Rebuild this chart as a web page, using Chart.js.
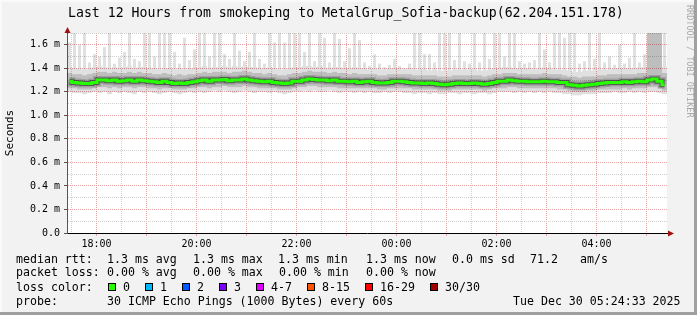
<!DOCTYPE html>
<html>
<head>
<meta charset="utf-8">
<script src="https://cdn.jsdelivr.net/npm/chart.js@4.4.1/dist/chart.umd.min.js"></script>
<style>
  body { margin: 0; background: #fff; }
  #frame { position: relative; width: 697px; height: 315px; background: #f2f2f2; overflow: hidden; color: #000;
           font-family: "DejaVu Sans Mono", monospace; }
  #frame canvas { position: absolute; left: 0; top: 0; }
  .edge { position: absolute; }
  .t { position: absolute; font-size: 11.6px; line-height: 14px; white-space: pre; }
  .box { position: absolute; width: 6px; height: 6px; border: 1px solid #000; top: 283px; }
  #title { position: absolute; left: 68px; top: 5px; font-size: 13.2px; line-height: 16px; white-space: pre; }
  #mark { position: absolute; left: 685px; top: 5px; font-size: 8.5px; color: #a8a8a8; writing-mode: vertical-rl; white-space: pre; }
</style>
</head>
<body>
<div id="frame">
  <div class="edge" style="left:0;top:0;width:697px;height:2px;background:#fafafa"></div>
  <div class="edge" style="left:0;top:0;width:2px;height:315px;background:#fafafa"></div>
  <div class="edge" style="left:694px;top:0;width:3px;height:315px;background:#a0a0a0"></div>
  <div class="edge" style="left:0;top:312px;width:697px;height:3px;background:#a0a0a0"></div>
  <canvas id="chart" width="697" height="315"></canvas>
  <div id="title">Last 12 Hours from smokeping to MetalGrup_Sofia-backup(62.204.151.178)</div>
  <div id="mark">RRDTOOL / TOBI OETIKER</div>

  <div class="t" style="left:16px;top:252px">median rtt:</div>
  <div class="t" style="left:107px;top:252px">1.3 ms avg</div>
  <div class="t" style="left:193px;top:252px">1.3 ms max</div>
  <div class="t" style="left:278px;top:252px">1.3 ms min</div>
  <div class="t" style="left:366px;top:252px">1.3 ms now</div>
  <div class="t" style="left:452px;top:252px">0.0 ms sd</div>
  <div class="t" style="left:530px;top:252px">71.2</div>
  <div class="t" style="left:580px;top:252px">am/s</div>

  <div class="t" style="left:16px;top:265px">packet loss:</div>
  <div class="t" style="left:107px;top:265px">0.00 % avg</div>
  <div class="t" style="left:193px;top:265px">0.00 % max</div>
  <div class="t" style="left:279px;top:265px">0.00 % min</div>
  <div class="t" style="left:366px;top:265px">0.00 % now</div>

  <div class="t" style="left:16px;top:280px">loss color:</div>
  <div class="box" style="left:108px;background:#26ff00"></div><div class="t" style="left:123px;top:280px">0</div>
  <div class="box" style="left:145px;background:#00b8ff"></div><div class="t" style="left:160px;top:280px">1</div>
  <div class="box" style="left:182px;background:#0059ff"></div><div class="t" style="left:197px;top:280px">2</div>
  <div class="box" style="left:219px;background:#7e00ff"></div><div class="t" style="left:234px;top:280px">3</div>
  <div class="box" style="left:256px;background:#dd00ff"></div><div class="t" style="left:271px;top:280px">4-7</div>
  <div class="box" style="left:307px;background:#ff5500"></div><div class="t" style="left:322px;top:280px">8-15</div>
  <div class="box" style="left:365px;background:#ff0000"></div><div class="t" style="left:380px;top:280px">16-29</div>
  <div class="box" style="left:430px;background:#a10000"></div><div class="t" style="left:445px;top:280px">30/30</div>

  <div class="t" style="left:16px;top:294px">probe:</div>
  <div class="t" style="left:107px;top:294px">30 ICMP Echo Pings (1000 Bytes) every 60s</div>
  <div class="t" style="left:513px;top:294px">Tue Dec 30 05:24:33 2025</div>
</div>
<script>
// Time window: 12 hours ending Tue Dec 30 05:24:33, in hours since Dec 29 00:00
const startHour = 17 + 24.55 / 60;
const endHour = startHour + 12;
const binHours = 0.1; // 6 minute bins

// Median RTT per bin (ms)
const median = [
  1.29, 1.28, 1.275, 1.27, 1.27, 1.28, 1.30, 1.30, 1.295, 1.30,
  1.29, 1.295, 1.30, 1.29, 1.30, 1.295, 1.29, 1.285, 1.28, 1.29,
  1.28, 1.27, 1.275, 1.27, 1.28, 1.285, 1.295, 1.30, 1.29, 1.30,
  1.30, 1.305, 1.295, 1.30, 1.30, 1.31, 1.30, 1.295, 1.29, 1.285,
  1.29, 1.28, 1.275, 1.27, 1.275, 1.29, 1.29, 1.30, 1.31, 1.305,
  1.30, 1.30, 1.295, 1.30, 1.29, 1.29, 1.285, 1.29, 1.28, 1.285,
  1.29, 1.28, 1.275, 1.275, 1.28, 1.29, 1.29, 1.285, 1.28, 1.275,
  1.275, 1.27, 1.275, 1.27, 1.265, 1.26, 1.265, 1.27, 1.275, 1.27,
  1.27, 1.275, 1.27, 1.265, 1.27, 1.28, 1.29, 1.29, 1.30, 1.295,
  1.29, 1.29, 1.285, 1.285, 1.285, 1.29, 1.285, 1.285, 1.28, 1.28,
  1.26, 1.255, 1.25, 1.255, 1.26, 1.265, 1.27, 1.275, 1.28, 1.28,
  1.28, 1.285, 1.28, 1.285, 1.29, 1.285, 1.30, 1.31, 1.29, 1.26
];

// Smoke per bin (ms): lowest ping, inner band low/high, top of dense smoke, highest ping
const smokeMin = [
  1.20, 1.19, 1.19, 1.18, 1.19, 1.20, 1.19, 1.20, 1.18, 1.20,
  1.19, 1.20, 1.19, 1.18, 1.20, 1.19, 1.20, 1.19, 1.18, 1.19,
  1.20, 1.19, 1.18, 1.19, 1.20, 1.19, 1.20, 1.19, 1.20, 1.21,
  1.20, 1.21, 1.20, 1.19, 1.20, 1.21, 1.20, 1.19, 1.20, 1.20,
  1.19, 1.20, 1.19, 1.18, 1.19, 1.20, 1.20, 1.21, 1.20, 1.21,
  1.20, 1.20, 1.21, 1.20, 1.19, 1.20, 1.20, 1.19, 1.20, 1.19,
  1.20, 1.19, 1.19, 1.20, 1.19, 1.20, 1.20, 1.19, 1.19, 1.18,
  1.19, 1.19, 1.18, 1.19, 1.18, 1.18, 1.19, 1.19, 1.18, 1.19,
  1.19, 1.18, 1.19, 1.19, 1.18, 1.19, 1.20, 1.20, 1.20, 1.19,
  1.20, 1.19, 1.20, 1.19, 1.20, 1.19, 1.20, 1.19, 1.19, 1.18,
  1.18, 1.17, 1.17, 1.18, 1.18, 1.18, 1.19, 1.19, 1.19, 1.20,
  1.19, 1.19, 1.20, 1.19, 1.20, 1.19, 1.20, 1.20, 1.19, 1.18
];
const smokeLow = [
  1.23, 1.23, 1.22, 1.22, 1.22, 1.23, 1.24, 1.24, 1.23, 1.24,
  1.23, 1.24, 1.24, 1.23, 1.24, 1.24, 1.23, 1.23, 1.22, 1.23,
  1.23, 1.22, 1.22, 1.22, 1.23, 1.23, 1.24, 1.24, 1.23, 1.24,
  1.24, 1.25, 1.24, 1.24, 1.24, 1.25, 1.24, 1.24, 1.23, 1.23,
  1.23, 1.23, 1.22, 1.22, 1.22, 1.23, 1.24, 1.24, 1.25, 1.25,
  1.24, 1.24, 1.24, 1.24, 1.23, 1.23, 1.23, 1.23, 1.23, 1.23,
  1.23, 1.23, 1.22, 1.22, 1.23, 1.23, 1.23, 1.23, 1.23, 1.22,
  1.22, 1.22, 1.22, 1.22, 1.21, 1.21, 1.21, 1.22, 1.22, 1.22,
  1.22, 1.22, 1.22, 1.21, 1.22, 1.23, 1.23, 1.23, 1.24, 1.24,
  1.23, 1.23, 1.23, 1.23, 1.23, 1.23, 1.23, 1.23, 1.22, 1.22,
  1.21, 1.20, 1.20, 1.20, 1.21, 1.21, 1.22, 1.22, 1.22, 1.22,
  1.22, 1.23, 1.22, 1.23, 1.23, 1.23, 1.24, 1.24, 1.23, 1.21
];
const smokeHigh = [
  1.36, 1.35, 1.35, 1.34, 1.35, 1.36, 1.37, 1.37, 1.36, 1.37,
  1.36, 1.36, 1.37, 1.36, 1.37, 1.36, 1.36, 1.35, 1.35, 1.36,
  1.35, 1.34, 1.35, 1.34, 1.35, 1.35, 1.36, 1.37, 1.36, 1.37,
  1.37, 1.37, 1.36, 1.37, 1.37, 1.38, 1.37, 1.36, 1.36, 1.35,
  1.36, 1.35, 1.34, 1.34, 1.35, 1.36, 1.36, 1.37, 1.38, 1.37,
  1.37, 1.37, 1.36, 1.37, 1.36, 1.36, 1.35, 1.36, 1.35, 1.35,
  1.35, 1.35, 1.34, 1.34, 1.35, 1.35, 1.35, 1.35, 1.35, 1.34,
  1.34, 1.34, 1.34, 1.34, 1.33, 1.33, 1.33, 1.34, 1.34, 1.34,
  1.34, 1.34, 1.34, 1.33, 1.34, 1.35, 1.35, 1.36, 1.36, 1.36,
  1.35, 1.35, 1.35, 1.35, 1.35, 1.36, 1.35, 1.35, 1.35, 1.34,
  1.33, 1.33, 1.32, 1.33, 1.33, 1.33, 1.34, 1.34, 1.35, 1.35,
  1.35, 1.35, 1.35, 1.35, 1.36, 1.36, 1.75, 1.75, 1.75, 1.36
];
const smokeTop = [
  1.41, 1.40, 1.40, 1.39, 1.40, 1.41, 1.42, 1.41, 1.40, 1.41,
  1.40, 1.41, 1.42, 1.40, 1.41, 1.41, 1.40, 1.40, 1.39, 1.40,
  1.40, 1.39, 1.40, 1.39, 1.40, 1.40, 1.41, 1.42, 1.40, 1.41,
  1.41, 1.42, 1.41, 1.42, 1.41, 1.42, 1.41, 1.41, 1.40, 1.40,
  1.41, 1.40, 1.39, 1.39, 1.40, 1.41, 1.41, 1.42, 1.42, 1.41,
  1.42, 1.41, 1.40, 1.41, 1.41, 1.40, 1.40, 1.41, 1.40, 1.40,
  1.39, 1.40, 1.39, 1.39, 1.40, 1.40, 1.40, 1.39, 1.40, 1.39,
  1.39, 1.39, 1.38, 1.39, 1.38, 1.38, 1.38, 1.39, 1.39, 1.39,
  1.39, 1.39, 1.38, 1.38, 1.39, 1.40, 1.40, 1.41, 1.41, 1.40,
  1.40, 1.40, 1.40, 1.39, 1.40, 1.41, 1.40, 1.39, 1.39, 1.39,
  1.38, 1.37, 1.37, 1.38, 1.38, 1.38, 1.39, 1.39, 1.39, 1.40,
  1.40, 1.40, 1.40, 1.40, 1.41, 1.41, 1.75, 1.75, 1.75, 1.41
];
const smokeMax = [
  1.62, 1.75, 1.60, 1.75, 1.45, 1.52, 1.50, 1.58, 1.75, 1.44,
  1.49, 1.54, 1.75, 1.48, 1.46, 1.75, 1.75, 1.50, 1.75, 1.75,
  1.75, 1.54, 1.44, 1.66, 1.47, 1.56, 1.75, 1.75, 1.50, 1.75,
  1.75, 1.52, 1.48, 1.75, 1.55, 1.46, 1.54, 1.75, 1.48, 1.44,
  1.75, 1.62, 1.75, 1.62, 1.75, 1.75, 1.75, 1.54, 1.75, 1.46,
  1.75, 1.66, 1.45, 1.75, 1.65, 1.46, 1.57, 1.75, 1.64, 1.45,
  1.42, 1.52, 1.44, 1.41, 1.43, 1.48, 1.42, 1.40, 1.44, 1.75,
  1.75, 1.52, 1.52, 1.45, 1.75, 1.75, 1.75, 1.47, 1.75, 1.46,
  1.44, 1.75, 1.45, 1.75, 1.48, 1.75, 1.75, 1.50, 1.75, 1.75,
  1.46, 1.44, 1.45, 1.47, 1.75, 1.56, 1.45, 1.75, 1.75, 1.66,
  1.75, 1.75, 1.44, 1.46, 1.75, 1.48, 1.75, 1.45, 1.50, 1.43,
  1.60, 1.44, 1.49, 1.75, 1.45, 1.52, 1.75, 1.75, 1.75, 1.75
];

// Axis ticks
const yMax = 1.7;
const yStep = 0.1;
const halfHourTicks = [];
for(let h = 17.5; h <= 29; h += 0.5) {
  halfHourTicks.push(h);
}

const FONT = 'DejaVu Sans Mono';
const majorGrid = '#e6a4a4';
const minorGrid = '#cfcfcf';

// Build chart tables
const binCenters = median.map((_, i) => startHour + binHours * (i + 0.5));
const medianPts = median.map((v, i) => ({ x: binCenters[i], y: v }));
const spikeBand = smokeTop.map((v, i) => ({ x: binCenters[i], y: [v, smokeMax[i]] }));
const outerBand = smokeMin.map((v, i) => ({ x: binCenters[i], y: [v, smokeTop[i]] }));
const innerBand = smokeLow.map((v, i) => ({ x: binCenters[i], y: [v, smokeHigh[i]] }));

function isWholeHour(v) {
  return Math.abs(v - Math.round(v)) < 1e-6;
}
function isMajorY(v) {
  return v > 0.01 && Math.round(v * 10) % 2 === 0;
}
function hourLabel(v) {
  const h = Math.round(v * 2) / 2;
  if(!isWholeHour(h) || h % 2 !== 0) {
    return '';
  }
  const hh = h % 24;
  return (hh < 10 ? '0' : '') + hh + ':00';
}

// Plot background and axis arrows
const frameDeco = {
  id: 'frameDeco',
  beforeDraw(c) {
    const a = c.chartArea;
    const ctx = c.ctx;
    ctx.save();
    ctx.fillStyle = '#ffffff';
    ctx.fillRect(a.left, a.top, a.right - a.left, a.bottom - a.top);
    ctx.restore();
  },
  afterDraw(c) {
    const a = c.chartArea;
    const ctx = c.ctx;
    ctx.save();
    ctx.strokeStyle = '#000';
    ctx.lineWidth = 1;
    ctx.beginPath();
    ctx.moveTo(a.right, a.bottom + 0.5);
    ctx.lineTo(a.right + 3, a.bottom + 0.5);
    ctx.stroke();
    ctx.fillStyle = '#a01010';
    ctx.beginPath();
    ctx.moveTo(a.left + 0.5, a.top - 6);
    ctx.lineTo(a.left - 2.5, a.top);
    ctx.lineTo(a.left + 3.5, a.top);
    ctx.closePath();
    ctx.fill();
    ctx.beginPath();
    ctx.moveTo(a.right + 7, a.bottom + 0.5);
    ctx.lineTo(a.right + 1, a.bottom - 2.5);
    ctx.lineTo(a.right + 1, a.bottom + 3.5);
    ctx.closePath();
    ctx.fill();
    ctx.restore();
  }
};

const medianLine = { type: 'line', stepped: 'middle', pointRadius: 0, fill: false,
  borderCapStyle: 'butt', borderJoinStyle: 'miter' };

new Chart(document.getElementById('chart'), {
  type: 'bar',
  data: {
    datasets: [
      Object.assign({}, medianLine, { data: medianPts, borderColor: '#26ff00', borderWidth: 3, order: 0 }),
      Object.assign({}, medianLine, { data: medianPts, borderColor: 'rgba(0,0,0,0.45)', borderWidth: 5, order: 1 }),
      Object.assign({}, medianLine, { data: medianPts, borderColor: 'rgba(0,0,0,0.16)', borderWidth: 8, order: 2 }),
      { data: innerBand, backgroundColor: 'rgba(0,0,0,0.15)', order: 3 },
      { data: outerBand, backgroundColor: 'rgba(0,0,0,0.12)', order: 4 },
      { data: spikeBand, backgroundColor: 'rgba(0,0,0,0.12)', barPercentage: 0.6, order: 5 }
    ]
  },
  options: {
    responsive: false,
    animation: false,
    devicePixelRatio: 1,
    events: [],
    layout: { padding: { left: 0, top: 33, right: 30, bottom: 0 }, autoPadding: false },
    plugins: { legend: { display: false }, tooltip: { enabled: false } },
    datasets: {
      bar: { grouped: false, barPercentage: 1, categoryPercentage: 1, borderWidth: 0, inflateAmount: 0 }
    },
    scales: {
      x: {
        type: 'linear',
        min: startHour,
        max: endHour,
        offset: false,
        afterBuildTicks: (scale) => { scale.ticks = halfHourTicks.map(v => ({ value: v })); },
        afterFit: (scale) => { scale.height = 82; },
        grid: {
          offset: false,
          color: (c) => c.tick ? (isWholeHour(c.tick.value) ? majorGrid : minorGrid) : 'transparent',
          tickColor: (c) => c.tick && isWholeHour(c.tick.value) ? majorGrid : 'transparent',
          tickLength: 3,
          tickBorderDash: []
        },
        border: { color: '#000', width: 1, dash: [1, 1] },
        ticks: {
          autoSkip: false,
          maxRotation: 0,
          padding: 2,
          color: '#000',
          font: { family: FONT, size: 10 },
          callback: (v) => hourLabel(v)
        }
      },
      y: {
        min: 0,
        max: yMax,
        afterFit: (scale) => { scale.width = 67; },
        grid: {
          color: (c) => c.tick ? (c.tick.value < 0.01 ? 'transparent' : (isMajorY(c.tick.value) ? majorGrid : minorGrid)) : 'transparent',
          tickColor: (c) => c.tick && (isMajorY(c.tick.value) || c.tick.value < 0.01) ? '#555' : 'transparent',
          tickLength: 3,
          tickBorderDash: []
        },
        border: { color: '#555', width: 1, dash: [1, 1] },
        ticks: {
          stepSize: yStep,
          autoSkip: false,
          padding: 4,
          color: '#000',
          font: { family: FONT, size: 10 },
          callback: (v) => {
            if(v < 0.01) return '0.0';
            return isMajorY(v) ? v.toFixed(1) + ' m' : '';
          }
        },
        title: {
          display: true,
          text: 'Seconds',
          color: '#000',
          font: { family: FONT, size: 11 },
          padding: { top: 4, bottom: 0 }
        }
      }
    }
  },
  plugins: [frameDeco]
});
</script>
</body>
</html>
